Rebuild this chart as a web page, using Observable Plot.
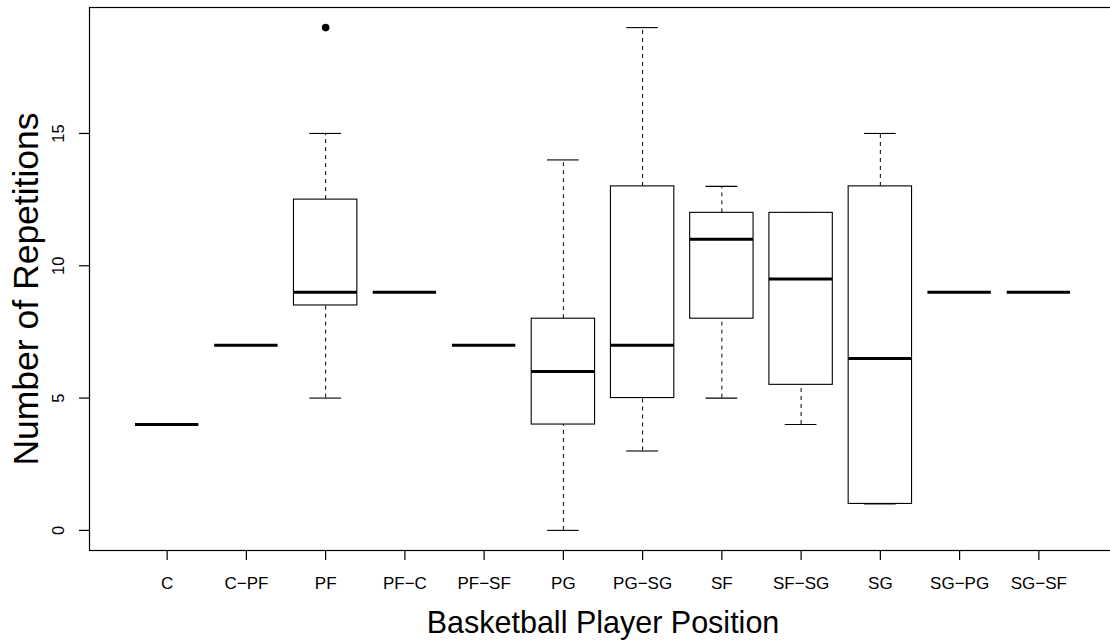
<!DOCTYPE html>
<html>
<head>
<meta charset="utf-8">
<script src="https://cdn.jsdelivr.net/npm/d3@7"></script>
<script src="https://cdn.jsdelivr.net/npm/@observablehq/plot@0.6"></script>
<style>
  html, body { margin: 0; padding: 0; background: #fff; overflow: hidden; }
  #chart svg { display: block; }
</style>
</head>
<body>
<div id="chart"></div>
<script>
// Categories (R-style labels with minus signs)
const positions = ["C", "C−PF", "PF", "PF−C", "PF−SF", "PG", "PG−SG", "SF", "SF−SG", "SG", "SG−PG", "SG−SF"];
// Five-number summaries
const lowerWhisker = [4, 7, 5,   9, 7, 0, 3,  5, 4,   1,   9, 9];
const q1           = [4, 7, 8.5, 9, 7, 4, 5,  8, 5.5, 1,   9, 9];
const median       = [4, 7, 9,   9, 7, 6, 7, 11, 9.5, 6.5, 9, 9];
const q3           = [4, 7, 12.5,9, 7, 8, 13, 12, 12, 13,  9, 9];
const upperWhisker = [4, 7, 15,  9, 7, 14, 19, 13, 12, 15, 9, 9];
// Outliers
const outlierPos = ["PF"];
const outlierVal = [19];
// Axis ticks
const yTicks = [0, 5, 10, 15];
const xTitle = "Basketball Player Position";
const yTitle = "Number of Repetitions";

const rows = positions.map((p, k) => ({
  i: k + 1, pos: p,
  lo: lowerWhisker[k], q1: q1[k], med: median[k], q3: q3[k], hi: upperWhisker[k]
}));
const outliers = outlierPos.map((p, k) => ({ i: positions.indexOf(p) + 1, v: outlierVal[k] }));
const n = positions.length;
const pad = 0.04 * n;
const yMin = Math.min(...lowerWhisker, ...outlierVal), yMax = Math.max(...upperWhisker, ...outlierVal);
const yPad = 0.04 * (yMax - yMin);

const font = "'Liberation Sans', Arial, Helvetica, sans-serif";
const dash = "4,4";

const chart = Plot.plot({
  width: 1110,
  height: 644,
  marginLeft: 89,
  marginTop: 7,
  marginBottom: 94,
  marginRight: -6,
  style: { fontFamily: font, background: "#fff", color: "#000" },
  x: { type: "linear", domain: [0.5 - pad, n + 0.5 + pad] },
  y: { domain: [yMin - yPad, yMax + yPad] },
  marks: [
    // whiskers (dashed)
    Plot.ruleX(rows, { x: "i", y1: "q3", y2: "hi", stroke: "#000", strokeWidth: 1, strokeDasharray: dash }),
    Plot.ruleX(rows, { x: "i", y1: "lo", y2: "q1", stroke: "#000", strokeWidth: 1, strokeDasharray: dash }),
    // whisker caps
    Plot.ruleY(rows, { y: "hi", x1: d => d.i - 0.2, x2: d => d.i + 0.2, stroke: "#000", strokeWidth: 1.1 }),
    Plot.ruleY(rows, { y: "lo", x1: d => d.i - 0.2, x2: d => d.i + 0.2, stroke: "#000", strokeWidth: 1.1 }),
    // boxes
    Plot.rect(rows, { x1: d => d.i - 0.4, x2: d => d.i + 0.4, y1: "q1", y2: "q3", fill: "#fff", stroke: "#000", strokeWidth: 1.1 }),
    // medians
    Plot.ruleY(rows, { y: "med", x1: d => d.i - 0.4, x2: d => d.i + 0.4, stroke: "#000", strokeWidth: 3 }),
    // outliers
    Plot.dot(outliers, { x: "i", y: "v", r: 3.8, fill: "#000", stroke: "none" }),
    // frame
    Plot.frame({ stroke: "#000", strokeWidth: 1.2 }),
    // x axis
    Plot.axisX({
      ticks: positions.map((p, k) => k + 1),
      tickFormat: i => positions[i - 1],
      tickSize: 10, tickPadding: 16, fontSize: 17, label: null, strokeWidth: 1.2
    }),
    // y axis ticks (labels drawn rotated below)
    Plot.axisY({ ticks: yTicks, tickSize: 10, tickFormat: () => "", label: null, strokeWidth: 1.2 }),
    Plot.text(yTicks, { y: d => d, text: d => String(d), frameAnchor: "left", dx: -31, rotate: -90,
      textAnchor: "middle", lineAnchor: "middle", fontSize: 16.5, fill: "#000" }),
    // axis titles
    Plot.text([xTitle], { text: d => d, frameAnchor: "bottom", dy: 73, fontSize: 30.5, fill: "#000", lineAnchor: "middle" }),
    Plot.text([yTitle], { text: d => d, frameAnchor: "left", dx: -63, dy: 10, rotate: -90, fontSize: 35.5,
      fill: "#000", textAnchor: "middle", lineAnchor: "middle" })
  ]
});
document.getElementById("chart").appendChild(chart);
</script>
</body>
</html>
